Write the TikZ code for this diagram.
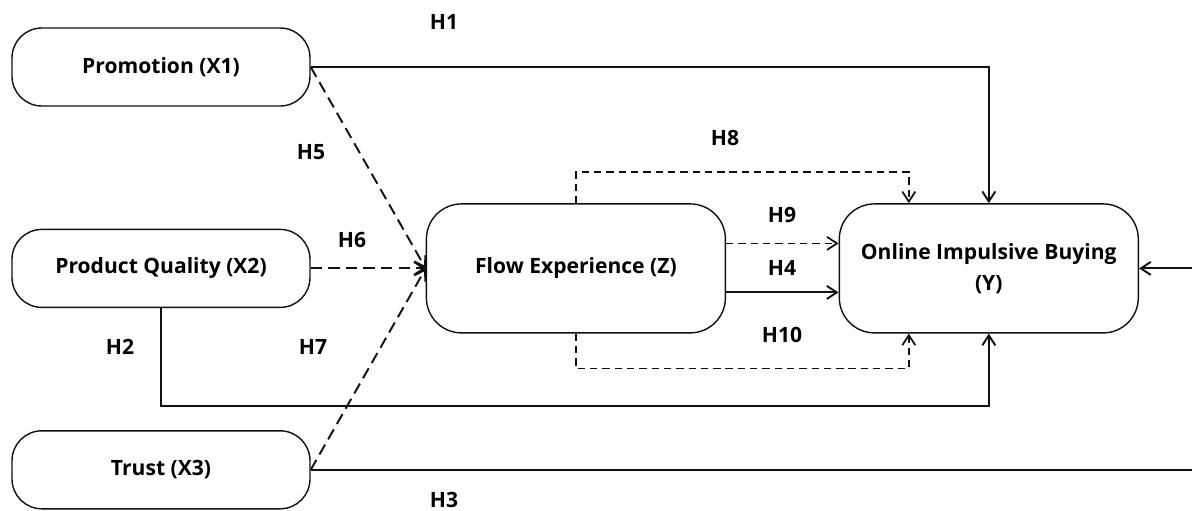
\documentclass[tikz,border=0pt]{standalone}
\usepackage{fontspec}
\setmainfont{Open Sans}
\usetikzlibrary{arrows.meta,positioning}
\definecolor{inkblack}{HTML}{111111}
\tikzset{
  varbox/.style={
    draw=inkblack,
    line width=0.8pt,
    rounded corners=17pt,
    align=center,
    inner sep=2pt,
    minimum width=59.6mm,
    minimum height=15.6mm,
    font=\bfseries\fontsize{12}{17.5}\selectfont
  },
  mainbox/.style={
    varbox,
    rounded corners=20pt,
    minimum width=59.8mm,
    minimum height=25.8mm
  },
  solidarrow/.style={-{Straight Barb[length=2mm,width=2.6mm]}, line width=1.1pt, draw=inkblack},
  dasharrow/.style={solidarrow, dash pattern=on 6.5pt off 3.5pt},
  smalldash/.style={solidarrow, line width=1pt, dash pattern=on 4.2pt off 2.8pt},
  hlabel/.style={font=\bfseries\fontsize{12}{13}\selectfont, inner sep=1pt}
}
\begin{document}
\begin{tikzpicture}[node distance=24.4mm and 23mm]
\useasboundingbox (0,0) rectangle (23.84,-10.22);
\node[varbox] (promo) at (3.22,-1.34) {Promotion (X1)};
\node[varbox, below=of promo] (quality) {Product Quality (X2)};
\node[varbox, below=of quality] (trust) {Trust (X3)};
\node[mainbox, right=of quality] (flow) {Flow Experience (Z)};
\node[mainbox, node distance=22.5mm, right=of flow] (oib) {Online Impulsive Buying\\(Y)};
\coordinate (h3turn) at (24.3,0);

% direct paths
\draw[solidarrow] (promo.east) -| (oib.north);
\draw[solidarrow] (quality.south) -- ++(0,-1.96) -| (oib.south);
\draw[solidarrow] (trust.east) -- (trust.east -| h3turn) |- (oib.east);
\draw[solidarrow] ([yshift=-4.8mm]flow.east) -- ([yshift=-4.8mm]flow.east -| oib.west);

% into the mediator
\draw[dasharrow] (promo.east) -- (flow.west);
\draw[dasharrow] (quality.east) -- (flow.west);
\draw[dasharrow] (trust.east) -- (flow.west);

% mediated paths
\draw[smalldash] (flow.north) -- ++(0,0.62) -| ([xshift=-16mm]oib.north);
\draw[smalldash] (flow.south) -- ++(0,-0.7) -| ([xshift=-16mm]oib.south);
\draw[smalldash] ([yshift=5mm]flow.east) -- ([yshift=5mm]flow.east -| oib.west);

\node[hlabel] (h1) at (8.88,-0.44) {H1};
\node[hlabel] (h2) at (2.40,-6.94) {H2};
\node[hlabel] (h3) at (8.88,-10.00) {H3};
\node[hlabel] (h4) at (15.64,-5.36) {H4};
\node[hlabel] (h5) at (6.22,-3.04) {H5};
\node[hlabel] (h6) at (7.04,-4.80) {H6};
\node[hlabel] (h7) at (6.26,-6.94) {H7};
\node[hlabel] (h8) at (14.50,-2.76) {H8};
\node[hlabel] (h9) at (15.64,-4.30) {H9};
\node[hlabel] (h10) at (15.64,-6.70) {H10};
\end{tikzpicture}
\end{document}
